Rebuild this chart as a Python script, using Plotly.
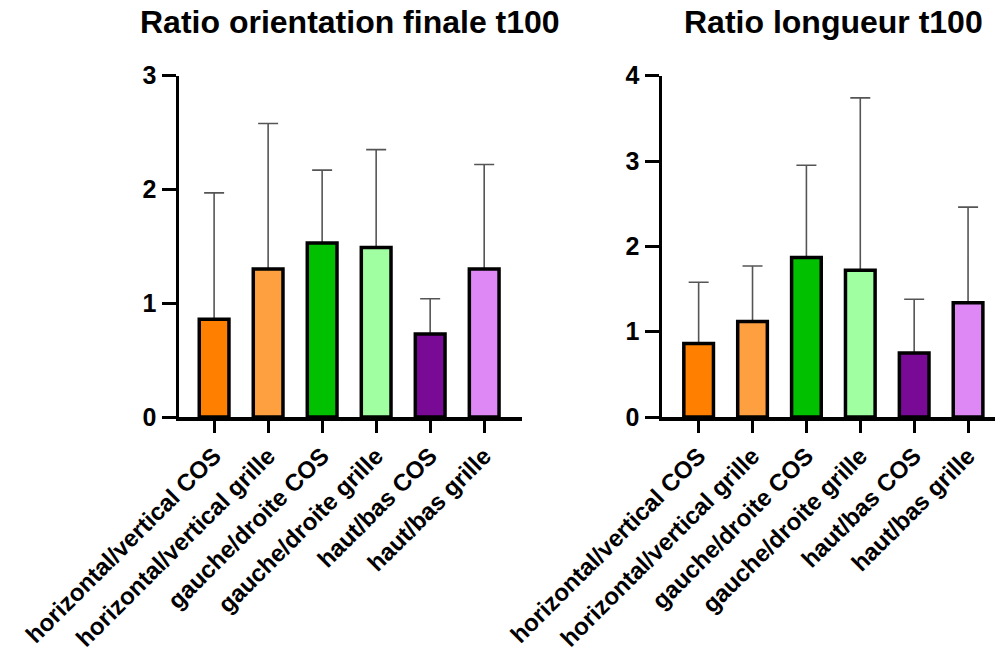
import plotly.graph_objects as go

categories = ["horizontal/vertical COS", "horizontal/vertical grille",
              "gauche/droite COS", "gauche/droite grille",
              "haut/bas COS", "haut/bas grille"]
colors = ["#FF8000", "#FFA040", "#00C000", "#A0FFA0", "#780A96", "#DD88F5"]

orient_mean = [0.86, 1.30, 1.53, 1.49, 0.73, 1.30]
orient_top = [1.97, 2.58, 2.17, 2.35, 1.04, 2.22]

long_mean = [0.86, 1.12, 1.87, 1.72, 0.75, 1.34]
long_top = [1.58, 1.77, 2.95, 3.74, 1.38, 2.46]

titles = ["Ratio orientation finale t100", "Ratio longueur t100"]

W, H = 997, 659
FONT = "Liberation Sans, Arial, sans-serif"

fig = go.Figure()

def add_bars(means, tops, xa, ya):
    err = [t - m for t, m in zip(tops, means)]
    xs = list(range(len(categories)))
    # invisible bars carrying the upper error bars (drawn underneath)
    fig.add_trace(go.Bar(
        x=xs, y=means, width=0.55,
        marker=dict(color="rgba(0,0,0,0)", line=dict(width=0)),
        error_y=dict(type="data", array=err, arrayminus=[0]*len(err), symmetric=False,
                     color="#555555", thickness=1.6, width=10),
        xaxis=xa, yaxis=ya, showlegend=False, hoverinfo="skip",
    ))
    # visible bars on top
    fig.add_trace(go.Bar(
        x=xs, y=means, width=0.55,
        marker=dict(color=colors, line=dict(color="black", width=3.5)),
        xaxis=xa, yaxis=ya, showlegend=False, hoverinfo="skip",
    ))

add_bars(orient_mean, orient_top, "x", "y")
add_bars(long_mean, long_top, "x2", "y2")

def px_x(v):
    return v / W

def px_y(v):
    return 1 - v / H

xcommon = dict(
    tickmode="array", tickvals=list(range(6)), ticktext=categories,
    tickangle=-45, ticks="outside", ticklen=12, tickwidth=3, tickcolor="black",
    showline=True, linecolor="black", linewidth=3.5, showgrid=False, zeroline=False,
    tickfont=dict(family=FONT, size=24, color="black", weight="bold"),
    automargin=False, fixedrange=True,
)
ycommon = dict(
    ticks="outside", ticklen=14, tickwidth=3, tickcolor="black",
    showline=True, linecolor="black", linewidth=3.5, showgrid=False, zeroline=False,
    tickfont=dict(family=FONT, size=25, color="black", weight="bold"),
    automargin=False, dtick=1, fixedrange=True,
)

fig.update_layout(
    width=W, height=H,
    margin=dict(l=0, r=0, t=0, b=0),
    paper_bgcolor="white", plot_bgcolor="white",
    barmode="overlay",
    xaxis=dict(domain=[px_x(179), px_x(522)], range=[-0.65, 5.7], anchor="y", **xcommon),
    yaxis=dict(domain=[px_y(417), px_y(75.7)], range=[0, 3], anchor="x", **ycommon),
    xaxis2=dict(domain=[px_x(662), px_x(995)], range=[-0.68, 5.5], anchor="y2", **xcommon),
    yaxis2=dict(domain=[px_y(417), px_y(75.7)], range=[0, 4], anchor="x2", **ycommon),
    annotations=[
        dict(text=titles[0], x=px_x(350), y=px_y(22), xref="paper", yref="paper",
             xanchor="center", yanchor="middle", showarrow=False,
             font=dict(family=FONT, size=32, color="black", weight="bold")),
        dict(text=titles[1], x=px_x(833), y=px_y(22), xref="paper", yref="paper",
             xanchor="center", yanchor="middle", showarrow=False,
             font=dict(family=FONT, size=32, color="black", weight="bold")),
    ],
)

fig.write_html(
    "out.html",
    config={"displayModeBar": False, "staticPlot": True},
    post_script="document.body.style.margin='0';document.body.style.overflow='hidden';",
)
